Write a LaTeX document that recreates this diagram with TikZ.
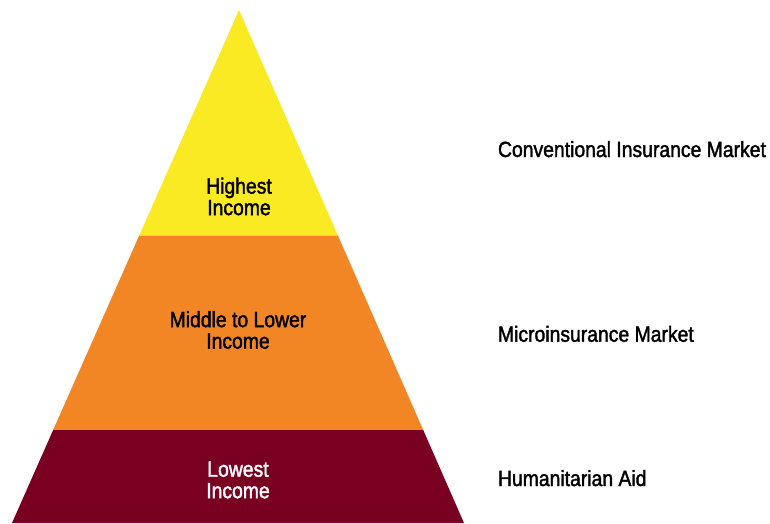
\documentclass[tikz,border=0pt]{standalone}
\usepackage{fontspec}
\setmainfont{Liberation Sans}[FakeStretch = 0.88, FakeBold = 1.7]
\usepackage{tikz}
\usetikzlibrary{
    calc,
    positioning
}
\definecolor{tierhigh}{RGB}{249,234,36}
\definecolor{tiermid}{RGB}{242,133,36}
\definecolor{tierlow}{RGB}{122,0,34}
\tikzset{
    every picture/.style = {
        x = 1pt,
        y = -1pt
    },
    every node/.style = {
        inner sep = 0pt,
        outer sep = 0pt,
        align = center,
        font = {\fontsize{22}{21.5}\selectfont}
    },
    tier/.style = {
        text = black
    },
    market/.style = {
        anchor = base west,
        text = black
    }
}

\begin{document}
\begin{tikzpicture}
    \useasboundingbox (0,0) rectangle (770,523);

    % corners of the pyramid
    \coordinate (apex) at (239,10);
    \coordinate (baseL) at (12,523);
    \coordinate (baseR) at (464,523);

    % where the bands meet the sides
    \coordinate (upL) at ($(apex)!0.4405!(baseL)$);
    \coordinate (upR) at ($(apex)!0.4405!(baseR)$);
    \coordinate (lowL) at ($(apex)!0.8187!(baseL)$);
    \coordinate (lowR) at ($(apex)!0.8187!(baseR)$);

    \fill[tierhigh] (apex) -- (upR) -- (upL) -- cycle;
    \fill[tiermid] (upL) -- (upR) -- (lowR) -- (lowL) -- cycle;
    \fill[tierlow] (lowL) -- (lowR) -- (baseR) -- (baseL) -- cycle;

    \node[tier] (high) at (239,196.5) {Highest\\Income};
    \node[tier] (mid) at (238,330) {Middle to Lower\\Income};
    \node[tier, text = white] (low) at (238,480) {Lowest\\Income};

    \node[market] (conventional) at (498,157) {Conventional Insurance Market};
    \node[market] (micro) at (498,341.7) {Microinsurance Market};
    \node[market] (aid) at (498,486) {Humanitarian Aid};
\end{tikzpicture}
\end{document}
